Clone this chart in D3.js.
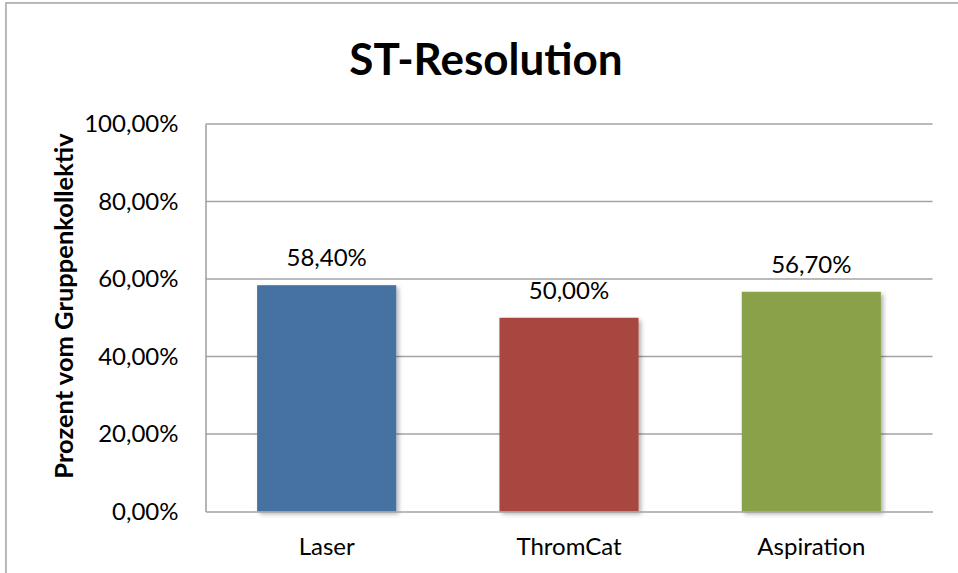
<!DOCTYPE html>
<html>
<head>
<meta charset="utf-8">
<script src="https://cdn.jsdelivr.net/npm/d3@7/dist/d3.min.js"></script>
<style>
  html, body { margin: 0; padding: 0; background: #ffffff; }
  svg { display: block; font-family: Lato, "Open Sans", sans-serif; }
</style>
</head>
<body>
<svg id="chart" width="958" height="573"></svg>
<script>
// Chart data
const categories = ["Laser", "ThromCat", "Aspiration"];
const values = [58.4, 50.0, 56.7];
const valueLabels = ["58,40%", "50,00%", "56,70%"];
const barColors = ["#4572a1", "#a7473f", "#89a24a"];
const yTicks = [0, 20, 40, 60, 80, 100];
const yTickLabels = ["0,00%", "20,00%", "40,00%", "60,00%", "80,00%", "100,00%"];
const title = "ST-Resolution";
const yTitle = "Prozent vom Gruppenkollektiv";

const svg = d3.select("#chart");
const W = 958, H = 573;
const plot = { left: 205.5, right: 932.5, top: 124, bottom: 511.5 };

// Shadow under bars
const defs = svg.append("defs");
const f = defs.append("filter").attr("id", "barShadow")
  .attr("x", "-10%").attr("y", "-10%").attr("width", "130%").attr("height", "130%");
f.append("feDropShadow").attr("dx", 2.5).attr("dy", 2.5).attr("stdDeviation", 2)
  .attr("flood-color", "#000").attr("flood-opacity", 0.3);
const fb = defs.append("filter").attr("id", "frameShadow")
  .attr("x", "-5%").attr("y", "-5%").attr("width", "110%").attr("height", "110%");
fb.append("feDropShadow").attr("dx", 1).attr("dy", 1).attr("stdDeviation", 0.8)
  .attr("flood-color", "#000").attr("flood-opacity", 0.25);

// Outer chart frame (extends past the right/bottom edges)
svg.append("rect")
  .attr("x", 6).attr("y", 3).attr("width", W + 40).attr("height", H + 40)
  .attr("fill", "#fff").attr("stroke", "#a6a6a6").attr("stroke-width", 1.5)
  .attr("filter", "url(#frameShadow)");

const x = d3.scaleBand()
  .domain(categories)
  .range([plot.left, plot.right])
  .paddingInner(0.426)
  .paddingOuter(0.213);

const y = d3.scaleLinear()
  .domain([0, 100])
  .range([plot.bottom, plot.top]);

// Horizontal gridlines
svg.append("g").selectAll("line")
  .data(yTicks.filter(d => d > 0))
  .join("line")
  .attr("x1", plot.left).attr("x2", plot.right)
  .attr("y1", d => y(d)).attr("y2", d => y(d))
  .attr("stroke", "#a3a3a3").attr("stroke-width", 1.6);

// Y axis with tick labels
const yAxis = d3.axisLeft(y)
  .tickValues(yTicks)
  .tickFormat((d, i) => yTickLabels[i])
  .tickSize(0)
  .tickPadding(27);
const gy = svg.append("g").attr("transform", `translate(${plot.left},0)`).call(yAxis);
gy.select(".domain").attr("stroke", "#a3a3a3").attr("stroke-width", 1.6);
gy.selectAll("text")
  .attr("font-family", "Lato, sans-serif")
  .attr("font-size", 24)
  .attr("fill", "#000");

// Bars
svg.append("g").selectAll("rect")
  .data(values)
  .join("rect")
  .attr("x", (d, i) => x(categories[i]))
  .attr("y", d => y(d))
  .attr("width", x.bandwidth())
  .attr("height", d => y(0) - y(d))
  .attr("fill", (d, i) => barColors[i])
  .attr("filter", "url(#barShadow)");

// X axis baseline and category labels
const xAxis = d3.axisBottom(x).tickSize(0).tickPadding(26.5);
const gx = svg.append("g").attr("transform", `translate(0,${plot.bottom})`).call(xAxis);
gx.select(".domain").attr("stroke", "#a3a3a3").attr("stroke-width", 1.6);
gx.selectAll("text")
  .attr("font-family", "Lato, sans-serif")
  .attr("font-size", 24)
  .attr("fill", "#000");

// Value labels above bars
svg.append("g").selectAll("text")
  .data(values)
  .join("text")
  .attr("x", (d, i) => x(categories[i]) + x.bandwidth() / 2)
  .attr("y", d => y(d) - 19)
  .attr("text-anchor", "middle")
  .attr("font-size", 24)
  .attr("fill", "#000")
  .text((d, i) => valueLabels[i]);

// Title
svg.append("text")
  .attr("x", 486).attr("y", 75)
  .attr("text-anchor", "middle")
  .attr("font-size", 44)
  .attr("font-weight", "bold")
  .attr("fill", "#000")
  .text(title);

// Y axis title
svg.append("text")
  .attr("transform", "translate(73,306) rotate(-90)")
  .attr("text-anchor", "middle")
  .attr("font-size", 25.5)
  .attr("font-weight", "bold")
  .attr("fill", "#000")
  .text(yTitle);
</script>
</body>
</html>
